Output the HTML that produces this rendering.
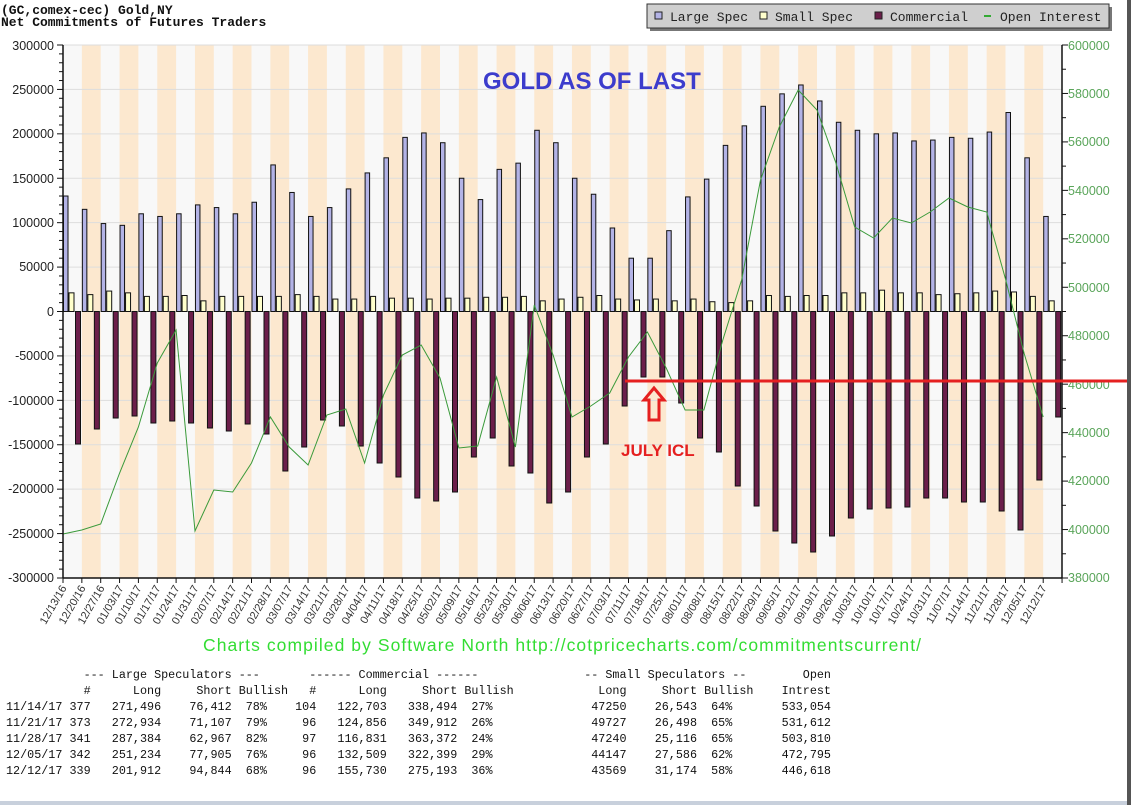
<!DOCTYPE html>
<html><head><meta charset="utf-8"><style>
body{margin:0;width:1131px;height:805px;background:#fff;overflow:hidden;position:relative;font-family:"Liberation Sans",sans-serif}
.t{position:absolute;font-family:"Liberation Mono",monospace;font-weight:bold;font-size:13px;color:#111;left:1px;white-space:pre}
pre{margin:0;position:absolute;left:6px;font-family:"Liberation Mono",monospace;font-size:11.75px;line-height:16px;color:#111}
</style></head><body>
<div class="t" style="top:3px">(GC,comex-cec) Gold,NY</div>
<div class="t" style="top:15px">Net Commitments of Futures Traders</div>
<svg id="s" width="1131" height="805" style="position:absolute;left:0;top:0">
<g id="plot"></g>
<g font-family="Liberation Sans,sans-serif" font-size="12.5" fill="#222" text-anchor="end">
<text x="54" y="50">300000</text><text x="54" y="94">250000</text><text x="54" y="138">200000</text><text x="54" y="183">150000</text><text x="54" y="227">100000</text><text x="54" y="271">50000</text><text x="54" y="316">0</text><text x="54" y="360">-50000</text><text x="54" y="405">-100000</text><text x="54" y="449">-150000</text><text x="54" y="493">-200000</text><text x="54" y="538">-250000</text><text x="54" y="582">-300000</text>
</g>
<g font-family="Liberation Sans,sans-serif" font-size="12.5" fill="#5aa55a">
<text x="1068" y="50">600000</text><text x="1068" y="98">580000</text><text x="1068" y="146">560000</text><text x="1068" y="195">540000</text><text x="1068" y="243">520000</text><text x="1068" y="292">500000</text><text x="1068" y="340">480000</text><text x="1068" y="389">460000</text><text x="1068" y="437">440000</text><text x="1068" y="485">420000</text><text x="1068" y="534">400000</text><text x="1068" y="582">380000</text>
</g>
<g font-family="Liberation Sans,sans-serif" font-size="11" fill="#333" text-anchor="end">
<text transform="translate(67,588) rotate(-60)">12/13/16</text>
<text transform="translate(86,588) rotate(-60)">12/20/16</text>
<text transform="translate(105,588) rotate(-60)">12/27/16</text>
<text transform="translate(124,588) rotate(-60)">01/03/17</text>
<text transform="translate(142,588) rotate(-60)">01/10/17</text>
<text transform="translate(161,588) rotate(-60)">01/17/17</text>
<text transform="translate(180,588) rotate(-60)">01/24/17</text>
<text transform="translate(199,588) rotate(-60)">01/31/17</text>
<text transform="translate(218,588) rotate(-60)">02/07/17</text>
<text transform="translate(237,588) rotate(-60)">02/14/17</text>
<text transform="translate(255,588) rotate(-60)">02/21/17</text>
<text transform="translate(274,588) rotate(-60)">02/28/17</text>
<text transform="translate(293,588) rotate(-60)">03/07/17</text>
<text transform="translate(312,588) rotate(-60)">03/14/17</text>
<text transform="translate(331,588) rotate(-60)">03/21/17</text>
<text transform="translate(350,588) rotate(-60)">03/28/17</text>
<text transform="translate(369,588) rotate(-60)">04/04/17</text>
<text transform="translate(387,588) rotate(-60)">04/11/17</text>
<text transform="translate(406,588) rotate(-60)">04/18/17</text>
<text transform="translate(425,588) rotate(-60)">04/25/17</text>
<text transform="translate(444,588) rotate(-60)">05/02/17</text>
<text transform="translate(463,588) rotate(-60)">05/09/17</text>
<text transform="translate(482,588) rotate(-60)">05/16/17</text>
<text transform="translate(501,588) rotate(-60)">05/23/17</text>
<text transform="translate(519,588) rotate(-60)">05/30/17</text>
<text transform="translate(538,588) rotate(-60)">06/06/17</text>
<text transform="translate(557,588) rotate(-60)">06/13/17</text>
<text transform="translate(576,588) rotate(-60)">06/20/17</text>
<text transform="translate(595,588) rotate(-60)">06/27/17</text>
<text transform="translate(614,588) rotate(-60)">07/03/17</text>
<text transform="translate(632,588) rotate(-60)">07/11/17</text>
<text transform="translate(651,588) rotate(-60)">07/18/17</text>
<text transform="translate(670,588) rotate(-60)">07/25/17</text>
<text transform="translate(689,588) rotate(-60)">08/01/17</text>
<text transform="translate(708,588) rotate(-60)">08/08/17</text>
<text transform="translate(727,588) rotate(-60)">08/15/17</text>
<text transform="translate(746,588) rotate(-60)">08/22/17</text>
<text transform="translate(764,588) rotate(-60)">08/29/17</text>
<text transform="translate(783,588) rotate(-60)">09/05/17</text>
<text transform="translate(802,588) rotate(-60)">09/12/17</text>
<text transform="translate(821,588) rotate(-60)">09/19/17</text>
<text transform="translate(840,588) rotate(-60)">09/26/17</text>
<text transform="translate(859,588) rotate(-60)">10/03/17</text>
<text transform="translate(878,588) rotate(-60)">10/10/17</text>
<text transform="translate(896,588) rotate(-60)">10/17/17</text>
<text transform="translate(915,588) rotate(-60)">10/24/17</text>
<text transform="translate(934,588) rotate(-60)">10/31/17</text>
<text transform="translate(953,588) rotate(-60)">11/07/17</text>
<text transform="translate(972,588) rotate(-60)">11/14/17</text>
<text transform="translate(991,588) rotate(-60)">11/21/17</text>
<text transform="translate(1010,588) rotate(-60)">11/28/17</text>
<text transform="translate(1028,588) rotate(-60)">12/05/17</text>
<text transform="translate(1047,588) rotate(-60)">12/12/17</text>
</g>
<rect x="650" y="7" width="462" height="24" fill="#777"/>
<rect x="647" y="4" width="462" height="24" fill="#cfcfcf" stroke="#333" stroke-width="1"/>
<rect x="655" y="12" width="7" height="7" fill="#b3b3e6" stroke="#222"/>
<rect x="760" y="12" width="7" height="7" fill="#ffffcc" stroke="#222"/>
<rect x="875" y="12" width="7" height="7" fill="#6b1e4a" stroke="#222"/>
<line x1="984" y1="16" x2="991" y2="16" stroke="#3a3" stroke-width="2"/>
<g font-family="Liberation Mono,monospace" font-size="13" fill="#222">
<text x="670" y="21">Large Spec</text><text x="775" y="21">Small Spec</text><text x="890" y="21">Commercial</text><text x="1000" y="21">Open Interest</text>
</g>
<text x="483" y="89" font-family="Liberation Sans,sans-serif" font-weight="bold" font-size="24" fill="#3c3ccc">GOLD AS OF LAST</text>
<line x1="625" y1="381" x2="1131" y2="381" stroke="#e52020" stroke-width="3"/>
<path d="M654,388 L664,400 L659,400 L659,420 L649,420 L649,400 L644,400 Z" fill="none" stroke="#e52020" stroke-width="3"/>
<text x="621" y="456" font-family="Liberation Sans,sans-serif" font-weight="bold" font-size="17" fill="#e52020">JULY ICL</text>
<text x="203" y="651" font-family="Liberation Sans,sans-serif" font-size="17.5" fill="#33dd33" textLength="718">Charts compiled by Software North  http://cotpricecharts.com/commitmentscurrent/</text>
<rect x="0" y="801" width="1131" height="4" fill="#c8d0dc"/>
<rect x="1127" y="0" width="4" height="805" fill="#555"/>
</svg>
<pre style="top:667px">           --- Large Speculators ---       ------ Commercial ------               -- Small Speculators --        Open
           #      Long     Short Bullish   #      Long     Short Bullish            Long     Short Bullish    Intrest
11/14/17 377   271,496    76,412  78%    104   122,703   338,494  27%              47250    26,543  64%       533,054
11/21/17 373   272,934    71,107  79%     96   124,856   349,912  26%              49727    26,498  65%       531,612
11/28/17 341   287,384    62,967  82%     97   116,831   363,372  24%              47240    25,116  65%       503,810
12/05/17 342   251,234    77,905  76%     96   132,509   322,399  29%              44147    27,586  62%       472,795
12/12/17 339   201,912    94,844  68%     96   155,730   275,193  36%              43569    31,174  58%       446,618</pre>
<script>
(function(){
var g=document.getElementById('plot'),NS='http://www.w3.org/2000/svg';
function el(t,a){var e=document.createElementNS(NS,t);for(var k in a)e.setAttribute(k,a[k]);g.appendChild(e);return e;}
var L=63,R=1062,T=45,B=578,W=18.85,Z=311.5,k=533/600000;
function Y(v){return Z-v*k;}
el('rect',{x:L,y:T,width:R-L,height:B-T,fill:'#f8f8f8'});
for(var n=1;n<53;n+=2)el('rect',{x:L+n*W,y:T,width:W,height:B-T,fill:'#fce8cf'});
for(var v=-300000;v<=300000;v+=50000)el('line',{x1:L,x2:R,y1:Y(v),y2:Y(v),stroke:'#ddd'});
var ls=[130,115,99,97,110,107,110,120,117,110,123,165,134,107,117,138,156,173,196,201,190,150,126,160,167,204,190,150,132,94,60,60,91,129,149,187,209,231,245,255,237,213,204,200,201,192,193,196,195,202,224,173,107];
var ss=[21,19,23,21,17,17,18,12,17,17,17,17,19,17,14,14,17,15,15,14,15,15,16,16,17,12,14,16,18,14,13,14,12,14,11,10,12,18,17,18,18,21,21,24,21,21,19,20,21,23,22,17,12];
var cy=[444,429,418,416,423,421,423,428,431,424,434,471,447,420,426,446,463,477,498,501,492,457,438,466,473,503,492,457,444,406,377,377,403,438,452,486,506,531,543,552,536,518,509,508,507,498,498,502,502,511,530,480,417];
var oi=[534,530,524,473,427,363,330,531,490,492,463,417,447,465,415,409,463,395,355,345,378,448,446,377,447,305,355,417,406,393,357,332,368,410,410,340,280,180,127,90,110,163,227,238,218,223,212,198,207,212,279,354,417];
for(var i=0;i<53;i++){var x=L+i*W;
 var y=Y(ls[i]*1000);el('rect',{x:x+0.5,y:y,width:4.5,height:Z-y,fill:'#b3b3e6',stroke:'#111','stroke-width':1});
 y=Y(ss[i]*1000);el('rect',{x:x+6,y:y,width:5,height:Z-y,fill:'#ffffcc',stroke:'#111','stroke-width':1});
 el('rect',{x:x+12.5,y:Z,width:5,height:cy[i]-Z,fill:'#6b1e4a',stroke:'#111','stroke-width':1});
}
var p='';for(i=0;i<53;i++)p+=(i?'L':'M')+(L+i*W).toFixed(1)+','+oi[i];
el('path',{d:p,fill:'none',stroke:'#3a9a3a','stroke-width':1});
el('line',{x1:L,x2:L,y1:T,y2:B,stroke:'#111','stroke-width':1.5});
el('line',{x1:R,x2:R,y1:T,y2:B,stroke:'#111','stroke-width':1.5});
el('line',{x1:L,x2:R,y1:B,y2:B,stroke:'#111','stroke-width':1.5});
for(v=-300000;v<=300000;v+=10000){var yy=Y(v);el('line',{x1:L-(v%50000?4:6),x2:L,y1:yy,y2:yy,stroke:'#111'});}
for(v=380000;v<=600000;v+=10000){yy=T+(600000-v)*533/220000;el('line',{x1:R,x2:R+(v%20000?4:6),y1:yy,y2:yy,stroke:'#111'});}
for(i=0;i<=53;i++)el('line',{x1:L+i*W,x2:L+i*W,y1:B,y2:B+5,stroke:'#111'});
})();
</script>
</body></html>
